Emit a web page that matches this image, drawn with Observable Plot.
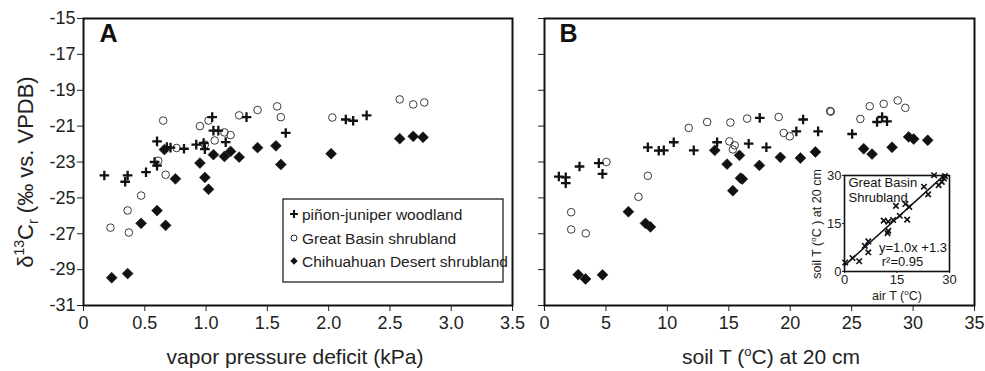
<!DOCTYPE html>
<html><head><meta charset="utf-8">
<script src="https://cdn.jsdelivr.net/npm/d3@7"></script>
<script src="https://cdn.jsdelivr.net/npm/@observablehq/plot@0.6"></script>
<style>
body{margin:0;background:#fff;font-family:"Liberation Sans",Arial,sans-serif;}
#wrap{position:relative;width:985px;height:371px;overflow:hidden;background:#fff;}
#wrap svg{position:absolute;background:transparent;overflow:visible;}
</style></head><body><div id="wrap"></div>
<script>
// ---- Panel A: vapor pressure deficit (kPa) vs d13C ----
const pjA = [[0.17,-23.75],[0.36,-23.75],[0.34,-24.1],[0.51,-23.57],[0.58,-23.0],[0.60,-23.2],[0.60,-21.85],[0.68,-22.17],[0.71,-22.2],[0.82,-22.26],[0.92,-22.03],[0.98,-21.94],[0.99,-22.28],[1.05,-20.5],[1.06,-21.25],[1.10,-21.25],[1.16,-21.89],[1.33,-20.5],[1.65,-21.38],[2.14,-20.63],[2.20,-20.7],[2.31,-20.4]];
const gbA = [[0.22,-26.66],[0.36,-25.7],[0.37,-26.93],[0.47,-24.87],[0.61,-22.93],[0.65,-20.69],[0.67,-23.71],[0.76,-22.22],[0.95,-21.0],[0.99,-22.03],[1.02,-20.69],[1.07,-21.8],[1.15,-21.35],[1.20,-21.5],[1.27,-20.4],[1.42,-20.1],[1.58,-19.9],[1.61,-20.5],[2.03,-20.52],[2.58,-19.51],[2.69,-19.79],[2.78,-19.68]];
const chA = [[0.23,-29.45],[0.36,-29.22],[0.47,-26.42],[0.60,-25.71],[0.67,-26.53],[0.66,-22.31],[0.75,-23.94],[0.95,-23.06],[0.99,-23.86],[1.02,-24.52],[1.06,-22.59],[1.15,-22.69],[1.20,-22.41],[1.27,-22.73],[1.42,-22.2],[1.57,-22.1],[1.61,-23.14],[2.02,-22.54],[2.58,-21.70],[2.69,-21.57],[2.77,-21.62]];

// ---- Panel B: soil T at 20 cm vs d13C ----
const pjB = [[1.17,-23.81],[1.73,-23.86],[1.73,-24.18],[2.85,-23.25],[4.42,-23.06],[4.72,-23.66],[8.41,-22.18],[9.30,-22.37],[9.71,-22.35],[10.52,-21.9],[12.15,-22.35],[14.05,-21.9],[16.62,-21.98],[17.52,-20.54],[18.06,-22.18],[20.5,-21.29],[21.05,-20.63],[22.27,-21.29],[25.04,-21.44],[27.07,-20.77],[27.48,-20.49],[27.88,-20.73]];
const gbB = [[2.17,-25.8],[2.17,-26.76],[3.36,-26.98],[5.04,-23.0],[7.65,-24.94],[8.41,-23.77],[11.74,-21.1],[13.24,-20.77],[15.13,-20.8],[15.05,-21.85],[15.48,-22.07],[15.33,-22.3],[16.49,-20.58],[19.06,-20.49],[19.47,-21.38],[19.96,-21.57],[23.25,-20.16],[23.3,-20.19],[25.71,-20.6],[26.47,-19.89],[27.61,-19.76],[28.75,-19.57],[29.37,-19.98]];
const chB = [[2.74,-29.28],[3.34,-29.52],[4.72,-29.29],[6.83,-25.77],[8.22,-26.42],[8.62,-26.62],[13.86,-22.35],[14.86,-23.12],[15.87,-22.63],[15.95,-23.9],[16.1,-23.95],[15.33,-24.6],[17.49,-23.19],[19.2,-22.74],[20.83,-22.78],[22.05,-22.44],[25.98,-22.26],[26.66,-22.56],[28.29,-22.18],[29.64,-21.6],[30.05,-21.72],[31.19,-21.79]];

// ---- Inset: air T vs soil T (Great Basin shrubland) ----
const insetAirT  = [0.2,2.3,4.2,5.8,6.8,6.8,11.2,12.5,13.9,12.5,12.3,14.7,15.8,17.4,17.9,18.5,22.7,23.9,25.6,26.9,27.8,28.4,28.7];
const insetSoilT = [2.8,4.2,3.2,8.0,9.4,6.0,15.9,15.6,16.1,12.7,12.0,20.5,17.4,21.1,16.2,20.2,26.5,24.1,30.1,27.0,28.0,29.1,29.8];

// ---- Axis ticks & labels ----
const yTicks = [-31,-29,-27,-25,-23,-21,-19,-17,-15];
const vpdTicks = [0,0.5,1.0,1.5,2.0,2.5,3.0,3.5];
const vpdTickLabels = ["0","0.5","1.0","1.5","2.0","2.5","3.0","3.5"];
const soilTicks = [0,5,10,15,20,25,30,35];
const insetTicks = [0,15,30];
const seriesNames = ["piñon-juniper woodland","Great Basin shrubland","Chihuahuan Desert shrubland"];
const panelLabels = ["A","B"];
const insetTitle = ["Great Basin","Shrubland"];
const insetStats = ["y=1.0x +1.3","r²=0.95"];

const FONT = '"Liberation Sans", Arial, Helvetica, sans-serif';
const toObj = arr => arr.map(([x,y]) => ({x,y}));
const wrap = document.getElementById("wrap");

function seriesMarks(pj, gb, ch) {
  return [
    Plot.dot(toObj(gb), {x:"x", y:"y", r:3.8, stroke:"#3a3a3a", strokeWidth:1, fill:"none"}),
    Plot.dot(toObj(pj), {x:"x", y:"y", symbol:"plus", r:3.2, stroke:"#111", strokeWidth:2.3}),
    Plot.dot(toObj(ch), {x:"x", y:"y", symbol:"diamond2", r:4.9, fill:"#111", stroke:"#111", strokeWidth:0.6})
  ];
}

function panel(opts) {
  const svg = Plot.plot({
    width: opts.width, height: 371,
    marginLeft: opts.ml, marginRight: opts.mr, marginTop: 18, marginBottom: 66,
    style: {fontFamily: FONT, fontSize: "18px", background: "transparent", color: "#222", overflow: "visible"},
    x: {domain: opts.xdomain, ticks: opts.xticks, tickFormat: opts.xfmt, tickSize: 6, tickPadding: 5, label: null},
    y: {domain: [-31,-15], ticks: yTicks, tickFormat: opts.yfmt, tickSize: 6, tickPadding: 2, label: null},
    marks: [
      ...seriesMarks(opts.pj, opts.gb, opts.ch),
      Plot.text([opts.letter], {frameAnchor: "top-left", dx: opts.ldx, dy: 6, fontSize: 25, fontWeight: "bold", fill: "#111"}),
      Plot.frame({stroke: "#111", strokeWidth: 2})
    ]
  });
  svg.style.left = opts.left + "px";
  svg.style.top = "0px";
  wrap.appendChild(svg);
}

panel({width: 520, left: 0, ml: 83, mr: 8, xdomain: [0,3.5], xticks: vpdTicks,
  xfmt: (d) => vpdTickLabels[vpdTicks.indexOf(d)] ?? String(d), yfmt: d => String(d),
  pj: pjA, gb: gbA, ch: chA, letter: panelLabels[0], ldx: 16});

panel({width: 465, left: 520, ml: 24, mr: 11, xdomain: [0,35], xticks: soilTicks,
  xfmt: d => String(d), yfmt: () => "",
  pj: pjB, gb: gbB, ch: chB, letter: panelLabels[1], ldx: 15});

// inset
const insetData = insetAirT.map((x,i) => ({x, y: insetSoilT[i]}));
const txt = {fontSize: 13, fill: "#111", lineAnchor: "middle"};
const inset = Plot.plot({
  width: 150, height: 135, marginLeft: 39, marginRight: 6, marginTop: 7, marginBottom: 32,
  style: {fontFamily: FONT, fontSize: "13px", background: "transparent", color: "#222", overflow: "visible"},
  x: {domain: [0,30], ticks: insetTicks, tickSize: 2, tickPadding: 1, label: null},
  y: {domain: [0,30], ticks: insetTicks, tickSize: 2, tickPadding: 1, label: null},
  marks: [
    Plot.frame({fill: "white"}),
    Plot.linearRegressionY(insetData, {x: "x", y: "y", ci: 0, stroke: "#111", strokeWidth: 1.5}),
    Plot.dot(insetData, {x: "x", y: "y", symbol: "times", r: 2.6, stroke: "#111", strokeWidth: 1.6}),
    Plot.text([insetTitle[0]], {...txt, frameAnchor: "top-left", textAnchor: "start", dx: 4, dy: 7.5}),
    Plot.text([insetTitle[1]], {...txt, frameAnchor: "top-left", textAnchor: "start", dx: 4, dy: 22}),
    Plot.text([insetStats[0]], {...txt, frameAnchor: "bottom", textAnchor: "middle", dx: 16, dy: -24}),
    Plot.text([insetStats[1]], {...txt, frameAnchor: "bottom", textAnchor: "middle", dx: 5.5, dy: -9.5}),
    Plot.frame({stroke: "#111", strokeWidth: 1.6})
  ]
});
inset.style.left = "805px";
inset.style.top = "168px";
wrap.appendChild(inset);

// overlay: axis titles, legend
const ov = d3.create("svg").attr("width", 985).attr("height", 371)
  .style("left", "0px").style("top", "0px").style("font-family", FONT).style("fill", "#222");

const yl = ov.append("text").attr("transform", "translate(33,172) rotate(-90)")
  .attr("text-anchor", "middle").attr("font-size", 22);
yl.append("tspan").text("δ");
yl.append("tspan").attr("font-size", 14).attr("dy", -9).text("13");
yl.append("tspan").attr("dy", 9).text("C");
yl.append("tspan").attr("font-size", 14).attr("dy", 5).text("r");
yl.append("tspan").attr("dy", -5).text(" (‰ vs. VPDB)");

ov.append("text").attr("x", 295).attr("y", 364).attr("text-anchor", "middle").attr("font-size", 21)
  .text("vapor pressure deficit (kPa)");
const xl = ov.append("text").attr("x", 771).attr("y", 364).attr("text-anchor", "middle").attr("font-size", 21);
xl.append("tspan").text("soil T (");
xl.append("tspan").attr("font-size", 13).attr("dy", -8).text("o");
xl.append("tspan").attr("dy", 8).text("C) at 20 cm");

// inset axis titles
const ixl = ov.append("text").attr("x", 897).attr("y", 300).attr("text-anchor", "middle").attr("font-size", 12.5);
ixl.append("tspan").text("air T (");
ixl.append("tspan").attr("font-size", 8).attr("dy", -5).text("o");
ixl.append("tspan").attr("dy", 5).text("C)");
const iyl = ov.append("text").attr("transform", "translate(821,224) rotate(-90)").attr("text-anchor", "middle").attr("font-size", 12.5);
iyl.append("tspan").text("soil T (");
iyl.append("tspan").attr("font-size", 8).attr("dy", -5).text("o");
iyl.append("tspan").attr("dy", 5).text("C ) at 20 cm");

// legend
const lg = ov.append("g");
lg.append("rect").attr("x", 283).attr("y", 199).attr("width", 220).attr("height", 83)
  .attr("fill", "white").attr("stroke", "#222").attr("stroke-width", 1.3);
const rowsY = [214, 238, 261];
lg.append("path").attr("transform", `translate(294,${rowsY[0]})`).attr("d", d3.symbol(d3.symbolPlus, 22)())
  .attr("fill", "none").attr("stroke", "#111").attr("stroke-width", 2);
lg.append("circle").attr("cx", 294).attr("cy", rowsY[1]).attr("r", 3).attr("fill", "none").attr("stroke", "#222").attr("stroke-width", 1);
lg.append("path").attr("transform", `translate(294,${rowsY[2]})`).attr("d", d3.symbol(d3.symbolDiamond2, 34)())
  .attr("fill", "#111");
seriesNames.forEach((s, i) => {
  lg.append("text").attr("x", 302).attr("y", rowsY[i] + 5.5).attr("font-size", 15.5).text(s);
});

wrap.appendChild(ov.node());
</script>
</body></html>
